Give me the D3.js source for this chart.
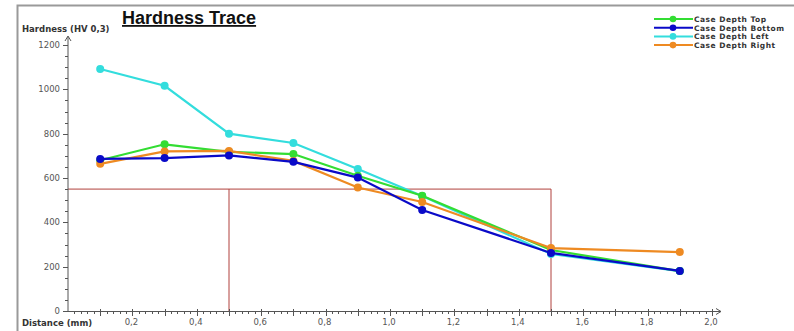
<!DOCTYPE html>
<html>
<head>
<meta charset="utf-8">
<script src="https://cdn.jsdelivr.net/npm/d3@7"></script>
<style>
  body { margin: 0; background: #fff; }
  svg { display: block; }
  text { font-family: "DejaVu Sans", Verdana, sans-serif; }
</style>
</head>
<body>
<svg id="svg" width="794" height="331"></svg>
<script>
// distances (mm) of the indents
const distances = [0.1, 0.3, 0.5, 0.7, 0.9, 1.1, 1.5, 1.9];

// hardness values per trace
const caseTop = [680, 752, 718, 708, 610, 520, 275, 180];
const caseBottom = [686, 690, 702, 673, 602, 456, 262, 181];
const caseLeft = [1092, 1016, 800, 758, 641, 519, 257, 180];
const caseRight = [664, 720, 722, 677, 557, 492, 284, 266];

const seriesNames = ["Case Depth Top", "Case Depth Bottom", "Case Depth Left", "Case Depth Right"];
const seriesColors = ["#33dd33", "#0a0ac8", "#33dddd", "#ee8a22"];

// limit line (550 HV) and case depth range
const limitHardness = 550;
const limitDistances = [0.5, 1.5];

const xTicks = [0.2, 0.4, 0.6, 0.8, 1.0, 1.2, 1.4, 1.6, 1.8, 2.0];
const yTicks = [0, 200, 400, 600, 800, 1000, 1200];

const svg = d3.select("svg");

// outer frame
svg.append("path")
  .attr("d", "M17.5,331 V5.5 H794")
  .attr("fill", "none")
  .attr("stroke", "#9a9a9a")
  .attr("stroke-width", 2);

const xScale = d3.scaleLinear().domain([0, 2]).range([68, 712]);
const yScale = d3.scaleLinear().domain([0, 1200]).range([311, 45]);

const fmt = d => d3.format(".1f")(d).replace(".", ",");

// red limit lines
const red = "#b0403c";
svg.append("line")
  .attr("x1", xScale(0)).attr("x2", xScale(limitDistances[1]))
  .attr("y1", yScale(limitHardness)).attr("y2", yScale(limitHardness))
  .attr("stroke", red).attr("stroke-width", 1);
limitDistances.forEach(d => {
  svg.append("line")
    .attr("x1", xScale(d)).attr("x2", xScale(d))
    .attr("y1", yScale(limitHardness)).attr("y2", yScale(0))
    .attr("stroke", red).attr("stroke-width", 1);
});

// y axis
const axisColor = "#555";
svg.append("line")
  .attr("x1", xScale(0)).attr("x2", xScale(0))
  .attr("y1", yScale(0)).attr("y2", 37)
  .attr("stroke", axisColor);
svg.append("path")
  .attr("d", `M${xScale(0) - 3},41 L${xScale(0)},36 L${xScale(0) + 3},41`)
  .attr("fill", "none").attr("stroke", axisColor);
const yMinor = d3.range(50, 1200, 50).filter(v => v % 200 !== 0);
svg.selectAll(".yminor").data(yMinor).enter().append("line")
  .attr("x1", xScale(0) - 3).attr("x2", xScale(0))
  .attr("y1", d => Math.round(yScale(d)) + 0.5).attr("y2", d => Math.round(yScale(d)) + 0.5)
  .attr("stroke", axisColor);
svg.selectAll(".ymajor").data(yTicks).enter().append("line")
  .attr("x1", xScale(0) - 5).attr("x2", xScale(0))
  .attr("y1", d => Math.round(yScale(d)) + 0.5).attr("y2", d => Math.round(yScale(d)) + 0.5)
  .attr("stroke", axisColor);
svg.selectAll(".ylab").data(yTicks).enter().append("text")
  .attr("x", xScale(0) - 8).attr("y", d => yScale(d) + 3)
  .attr("text-anchor", "end")
  .attr("font-size", 8.5).attr("fill", "#555")
  .text(d => d);

// x axis
svg.append("line")
  .attr("x1", xScale(0)).attr("x2", 721)
  .attr("y1", yScale(0) + 0.5).attr("y2", yScale(0) + 0.5)
  .attr("stroke", axisColor);
svg.append("path")
  .attr("d", `M716,${yScale(0) - 2.5} L721,${yScale(0) + 0.5} L716,${yScale(0) + 3.5}`)
  .attr("fill", "none").attr("stroke", axisColor);
const xMinor = d3.range(1, 100).map(i => i * 0.02).filter(v => Math.abs(v * 10 - Math.round(v * 10)) > 1e-6);
svg.selectAll(".xminor").data(xMinor).enter().append("line")
  .attr("x1", d => Math.round(xScale(d)) + 0.5).attr("x2", d => Math.round(xScale(d)) + 0.5)
  .attr("y1", yScale(0)).attr("y2", yScale(0) + 3)
  .attr("stroke", axisColor);
const xTenth = d3.range(1, 21).map(i => i / 10);
svg.selectAll(".xmajor").data(xTenth).enter().append("line")
  .attr("x1", d => Math.round(xScale(d)) + 0.5).attr("x2", d => Math.round(xScale(d)) + 0.5)
  .attr("y1", yScale(0) - 2).attr("y2", yScale(0) + 5)
  .attr("stroke", axisColor);
svg.selectAll(".xlab").data(xTicks).enter().append("text")
  .attr("x", d => xScale(d) - 1).attr("y", yScale(0) + 14)
  .attr("text-anchor", "middle")
  .attr("font-size", 8.5).attr("fill", "#555")
  .text(fmt);

// axis titles and chart title
svg.append("text")
  .attr("x", 22).attr("y", 32)
  .attr("font-size", 8.5).attr("font-weight", "bold").attr("fill", "#333")
  .text("Hardness (HV 0,3)");
svg.append("text")
  .attr("x", 22).attr("y", 326)
  .attr("font-size", 8.5).attr("font-weight", "bold").attr("fill", "#333")
  .text("Distance (mm)");
svg.append("text")
  .attr("x", 122).attr("y", 24)
  .style("font-family", "'Liberation Sans', Arial, sans-serif")
  .attr("font-size", 18).attr("font-weight", "bold").attr("fill", "#111")
  .attr("text-decoration", "underline")
  .text("Hardness Trace");

// series
const seriesValues = [caseTop, caseBottom, caseLeft, caseRight];
const line = d3.line()
  .x((d, i) => xScale(distances[i]))
  .y(d => yScale(d));

const drawOrder = [2, 0, 3, 1];
drawOrder.forEach(s => {
  const g = svg.append("g");
  g.append("path")
    .attr("d", line(seriesValues[s]))
    .attr("fill", "none")
    .attr("stroke", seriesColors[s])
    .attr("stroke-width", 2.2);
  g.selectAll("circle").data(seriesValues[s]).enter().append("circle")
    .attr("cx", (d, i) => xScale(distances[i]))
    .attr("cy", d => yScale(d))
    .attr("r", 4)
    .attr("fill", seriesColors[s]);
});

// legend
const legend = svg.append("g");
seriesNames.forEach((name, i) => {
  const y = 19 + i * 8.7;
  legend.append("line")
    .attr("x1", 654).attr("x2", 693)
    .attr("y1", y).attr("y2", y)
    .attr("stroke", seriesColors[i]).attr("stroke-width", 2);
  legend.append("circle")
    .attr("cx", 673).attr("cy", y).attr("r", 3.3)
    .attr("fill", seriesColors[i]);
  legend.append("text")
    .attr("x", 694).attr("y", y + 2.8)
    .attr("font-size", 7.5).attr("font-weight", "bold").attr("fill", "#333")
    .attr("letter-spacing", 0.5)
    .text(name);
});
</script>
</body>
</html>
